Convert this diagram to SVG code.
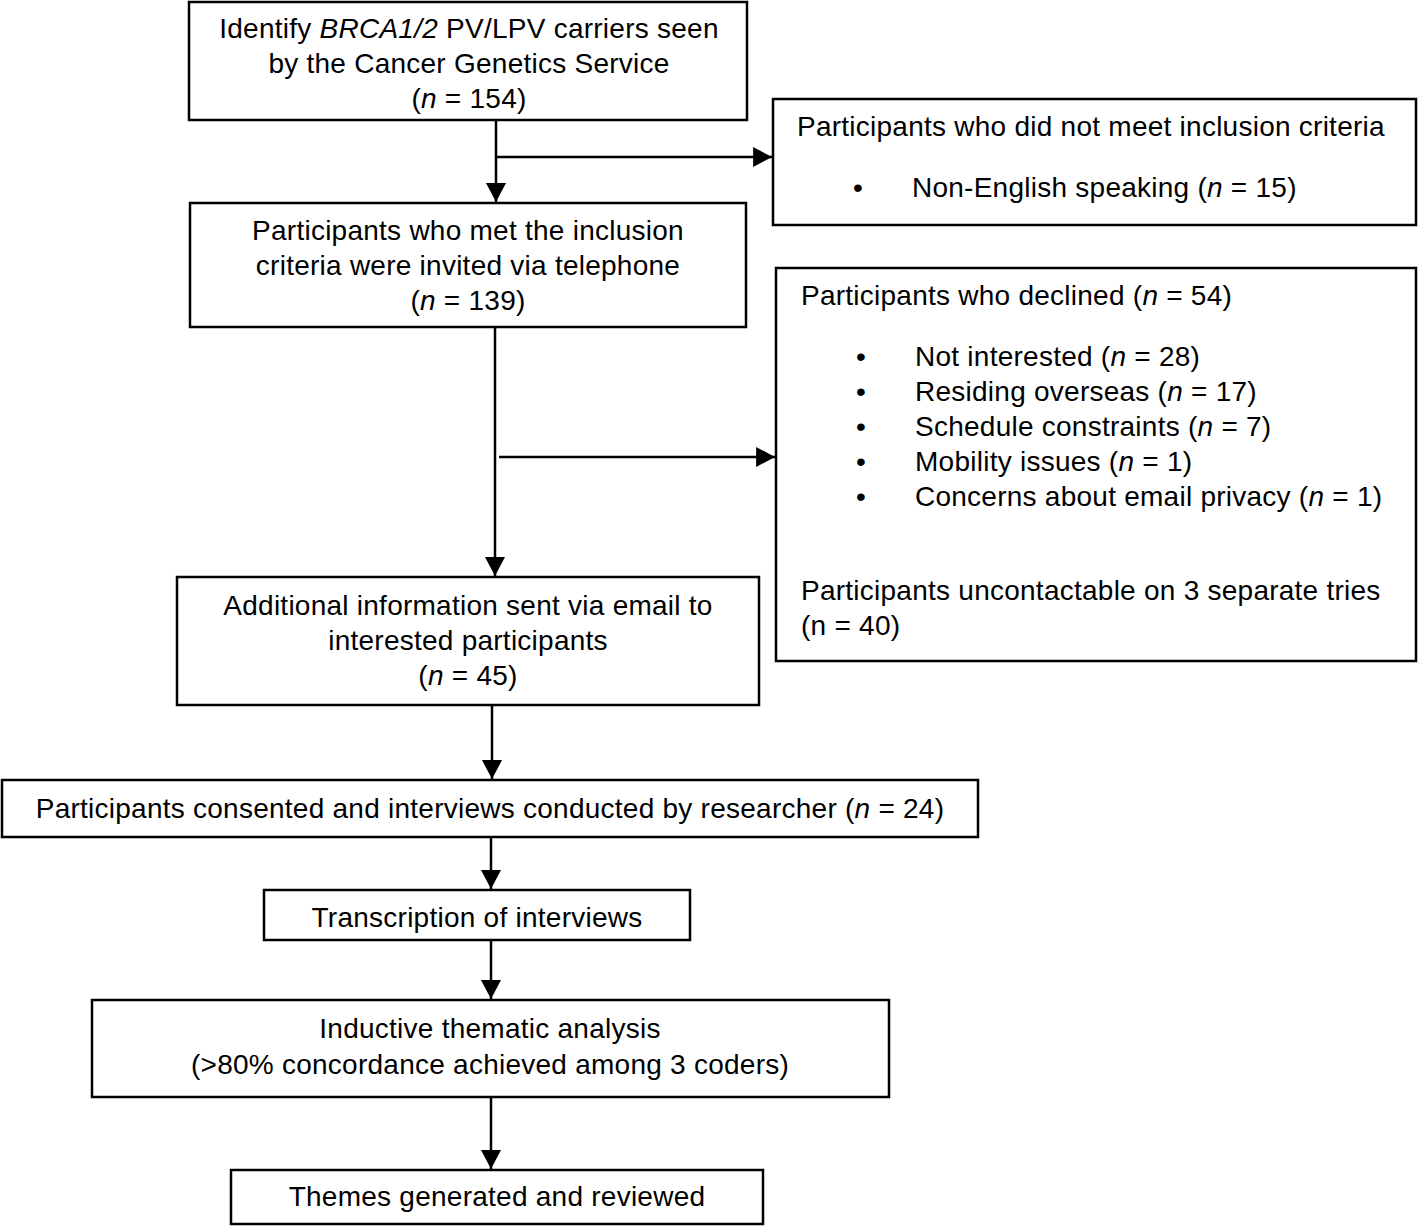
<svg xmlns="http://www.w3.org/2000/svg" width="1418" height="1226" viewBox="0 0 1418 1226">
<style>
.box{fill:#fff;stroke:#000;stroke-width:2.5}
.t{font-family:"Liberation Sans",Arial,sans-serif;font-size:28px;letter-spacing:0.25px;fill:#000}
.c{text-anchor:middle}
.ln{stroke:#000;stroke-width:2.5;fill:none}
</style>
<defs>
<marker id="ah" markerUnits="userSpaceOnUse" markerWidth="20" markerHeight="20" viewBox="0 0 18 18" refX="17" refY="9" orient="auto">
<path d="M0,0 L17,9 L0,18 Z" fill="#000"/>
</marker>
</defs>
<rect width="1418" height="1226" fill="#fff"/>
<g id="connectors">
<path class="ln" d="M496,120 V202" marker-end="url(#ah)"/>
<path class="ln" d="M496,157 H772" marker-end="url(#ah)"/>
<path class="ln" d="M495,327 V576" marker-end="url(#ah)"/>
<path class="ln" d="M499,457 H775" marker-end="url(#ah)"/>
<path class="ln" d="M492,705 V779" marker-end="url(#ah)"/>
<path class="ln" d="M491,837 V889" marker-end="url(#ah)"/>
<path class="ln" d="M491,940 V999" marker-end="url(#ah)"/>
<path class="ln" d="M491,1097 V1169" marker-end="url(#ah)"/>
</g>
<g id="n1">
<rect class="box" x="189" y="2" width="558" height="118"/>
<text class="t c" x="469" y="38">Identify <tspan font-style="italic">BRCA1/2</tspan> PV/LPV carriers seen</text>
<text class="t c" x="469" y="73">by the Cancer Genetics Service</text>
<text class="t c" x="469" y="108">(<tspan font-style="italic">n</tspan> = 154)</text>
</g>
<g id="n2">
<rect class="box" x="773" y="99" width="643" height="126"/>
<text class="t" x="797" y="136">Participants who did not meet inclusion criteria</text>
<text class="t" x="853" y="197">•</text>
<text class="t" x="912" y="197">Non-English speaking (<tspan font-style="italic">n</tspan> = 15)</text>
</g>
<g id="n3">
<rect class="box" x="190" y="203" width="556" height="124"/>
<text class="t c" x="468" y="240">Participants who met the inclusion</text>
<text class="t c" x="468" y="275">criteria were invited via telephone</text>
<text class="t c" x="468" y="310">(<tspan font-style="italic">n</tspan> = 139)</text>
</g>
<g id="n4">
<rect class="box" x="776" y="268" width="640" height="393"/>
<text class="t" x="801" y="305">Participants who declined (<tspan font-style="italic">n</tspan> = 54)</text>
<text class="t" x="856" y="366">•</text>
<text class="t" x="915" y="366">Not interested (<tspan font-style="italic">n</tspan> = 28)</text>
<text class="t" x="856" y="401">•</text>
<text class="t" x="915" y="401">Residing overseas (<tspan font-style="italic">n</tspan> = 17)</text>
<text class="t" x="856" y="436">•</text>
<text class="t" x="915" y="436">Schedule constraints (<tspan font-style="italic">n</tspan> = 7)</text>
<text class="t" x="856" y="471">•</text>
<text class="t" x="915" y="471">Mobility issues (<tspan font-style="italic">n</tspan> = 1)</text>
<text class="t" x="856" y="506">•</text>
<text class="t" x="915" y="506">Concerns about email privacy (<tspan font-style="italic">n</tspan> = 1)</text>
<text class="t" x="801" y="600">Participants uncontactable on 3 separate tries</text>
<text class="t" x="801" y="635">(n = 40)</text>
</g>
<g id="n5">
<rect class="box" x="177" y="577" width="582" height="128"/>
<text class="t c" x="468" y="615">Additional information sent via email to</text>
<text class="t c" x="468" y="650">interested participants</text>
<text class="t c" x="468" y="685">(<tspan font-style="italic">n</tspan> = 45)</text>
</g>
<g id="n6">
<rect class="box" x="2" y="780" width="976" height="57"/>
<text class="t c" x="490" y="818">Participants consented and interviews conducted by researcher (<tspan font-style="italic">n</tspan> = 24)</text>
</g>
<g id="n7">
<rect class="box" x="264" y="890" width="426" height="50"/>
<text class="t c" x="477" y="927">Transcription of interviews</text>
</g>
<g id="n8">
<rect class="box" x="92" y="1000" width="797" height="97"/>
<text class="t c" x="490" y="1038">Inductive thematic analysis</text>
<text class="t c" x="490" y="1074">(&gt;80% concordance achieved among 3 coders)</text>
</g>
<g id="n9">
<rect class="box" x="231" y="1170" width="532" height="54"/>
<text class="t c" x="497" y="1206">Themes generated and reviewed</text>
</g>
</svg>
